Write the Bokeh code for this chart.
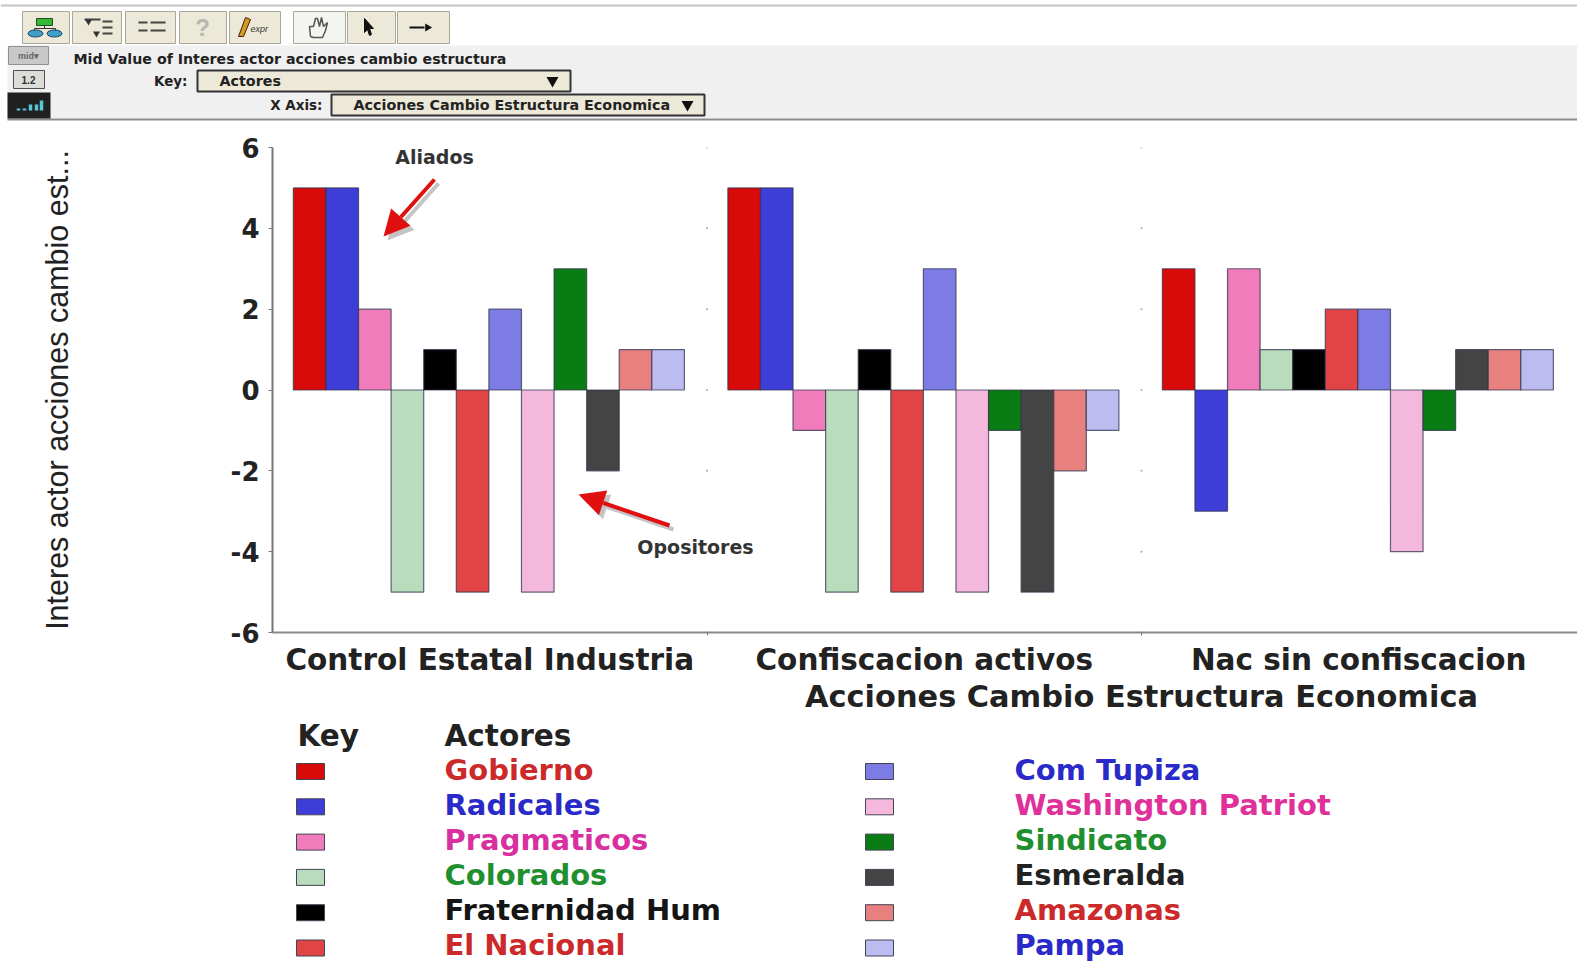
from bokeh.plotting import figure
from bokeh.layouts import column
from bokeh.models import FixedTicker, Arrow, NormalHead, Range1d, Label
from bokeh.core.properties import value
from bokeh.embed import file_html
from bokeh.resources import INLINE

groups = ["Control Estatal Industria", "Confiscacion activos", "Nac sin confiscacion"]
actors = ["Gobierno", "Radicales", "Pragmaticos", "Colorados", "Fraternidad Hum", "El Nacional",
          "Com Tupiza", "Washington Patriot", "Sindicato", "Esmeralda", "Amazonas", "Pampa"]
control = [5, 5, 2, -5, 1, -5, 2, -5, 3, -2, 1, 1]
confiscacion = [5, 5, -1, -5, 1, -5, 3, -5, -1, -5, -2, -1]
nacionalizacion = [3, -3, 3, 1, 1, 2, 2, -4, -1, 1, 1, 1]
bar_colors = ["#d80a0a", "#3d3dd8", "#f07cbc", "#b8dcbc", "#000000", "#e04444",
              "#7c7ce4", "#f4b8dc", "#0a7c14", "#444444", "#e88080", "#bcbcf0"]
text_colors = ["#cc2a2a", "#2a2ac8", "#d830a0", "#1f8f2f", "#151515", "#cc2a2a",
               "#2a2ac8", "#e0309a", "#1f8f2f", "#222222", "#cc2a2a", "#2a2ac8"]
y_ticks = [-6, -4, -2, 0, 2, 4, 6]
BIG = "DejaVu Sans"
SANS = "Liberation Sans"
W = 1577


def blank(h, y0, y1, **kw):
    f = figure(width=W, height=h, x_range=Range1d(0, W), y_range=Range1d(y1, y0),
               x_axis_type=None, y_axis_type=None, toolbar_location=None, output_backend="svg",
               min_border=0, outline_line_color=None, frame_align=False, **kw)
    f.grid.visible = False
    return f


def box(f, x0, x1, y0, y1, fill, line=None, lw=1):
    f.quad(left=x0, right=x1, top=y0, bottom=y1, fill_color=fill, line_color=line, line_width=lw)


def txt(f, x, y, s, size, color="#222222", font=SANS, style="normal", align="left"):
    f.text(x=[x], y=[y], text=[s], text_font=value(font), text_font_size=f"{size}px",
           text_font_style=style, text_color=color, text_align=align, text_baseline="middle")


# ---------- top application chrome ----------
top = blank(122, 0, 122)
box(top, 0, W, 4, 6, "#c4c4c4")
for a, b, fill in [(22, 69, "#ece9d8"), (72, 121, "#ece9d8"), (125, 175, "#ece9d8"), (179, 226, "#ece9d8"),
                   (229, 280, "#ece9d8"), (293, 345, "#f4f4f0"), (347, 395, "#ece9d8"), (397, 449, "#ece9d8")]:
    box(top, a, b, 11, 43, fill, "#a8a898")
# network icon
box(top, 36, 52, 18, 25, "#38b838", "#205020")
top.segment(x0=[44, 34, 34, 55], y0=[25, 28, 28, 28], x1=[44, 55, 34, 55], y1=[28, 28, 31, 31], line_color="#333333")
top.ellipse(x=[35, 54], y=[33, 33], width=15, height=7, fill_color="#40a0c8", line_color="#204060")
# outline icons
top.segment(x0=[84, 102, 102, 102, 138, 138, 150, 150], y0=[19, 21, 27, 33, 22, 30, 22, 30],
            x1=[100, 112, 112, 112, 147, 147, 165, 165], y1=[19, 21, 27, 33, 22, 30, 22, 30],
            line_color="#444444", line_width=2)
top.scatter(x=[88, 96], y=[21, 33], marker="inverted_triangle", size=7, fill_color="#333333", line_color=None)
txt(top, 202, 27, "?", 24, "#b8b8b0", style="bold", align="center")
top.patch(x=[238, 243, 250, 245], y=[36, 36, 19, 17], fill_color="#c8a020", line_color="#601010")
txt(top, 250, 28, "expr", 9, "#333333", style="italic")
top.patch(x=[310, 309, 313, 315, 317, 319, 321, 323, 327, 325, 322, 313],
          y=[36, 26, 26, 18, 18, 26, 17, 26, 22, 30, 37, 37], fill_color="#f4f4f0", line_color="#555555", line_width=1.5)
top.patch(x=[364, 364, 367, 369, 371, 369, 373], y=[18, 32, 29, 35, 34, 28, 28], fill_color="#111111", line_color="#111111")
top.segment(x0=[409], y0=[27], x1=[424], y1=[27], line_color="#111111", line_width=2)
top.scatter(x=[427], y=[27], marker="triangle", angle=-1.5708, size=8, fill_color="#111111", line_color=None)
# panel
box(top, 7, W, 45, 118, "#f0f0f0")
box(top, 7, W, 118, 120, "#8c8c8c")
box(top, 8, 48, 46, 64, "#c8c8c8", "#909090")
txt(top, 28, 55, "mid\u25be", 9, "#666666", style="bold", align="center")
box(top, 13, 44, 70, 88, "#dcdcd8", "#505050")
txt(top, 28, 79, "1.2", 10, "#333333", style="bold", align="center")
box(top, 7, 50, 92, 118, "#202020")
top.vbar(x=[18, 24, 30, 36, 41], width=3.5, top=[108, 108, 104, 104, 100], bottom=110, fill_color="#58c8d8", line_color=None)
txt(top, 73, 58, "Mid Value of Interes actor acciones cambio estructura", 14.2, style="bold", font=BIG)
txt(top, 187, 80, "Key:", 13.5, style="bold", font=BIG, align="right")
box(top, 197, 570, 70, 91, "#ece9d8", "#333333", 2)
txt(top, 219, 80, "Actores", 14.3, style="bold", font=BIG)
top.scatter(x=[552], y=[80], marker="inverted_triangle", size=12, fill_color="#111111", line_color=None)
txt(top, 322, 104, "X Axis:", 13.5, style="bold", font=BIG, align="right")
box(top, 331, 704, 94, 115, "#ece9d8", "#333333", 2)
txt(top, 353, 104, "Acciones Cambio Estructura Economica", 14.3, style="bold", font=BIG)
top.scatter(x=[687], y=[104], marker="inverted_triangle", size=12, fill_color="#111111", line_color=None)

# ---------- main chart ----------
GROUP_PX = 434.5
LEFT = 272
p = figure(width=W, height=561, x_range=Range1d(0, (W - LEFT) / GROUP_PX), y_range=Range1d(-6, 6),
           toolbar_location=None, output_backend="svg", min_border_left=LEFT, min_border_right=0,
           min_border_top=25, min_border_bottom=51, outline_line_color=None, frame_align=False,
           y_axis_label="Interes actor acciones cambio est...")
p.grid.visible = False
series = [control, confiscacion, nacionalizacion]
pad, bw = 0.048, 0.9 / len(actors)
for i, name in enumerate(actors):
    xs = [g + pad + (i + 0.5) * bw for g in range(len(groups))]
    p.vbar(x=xs, width=bw, top=[s[i] for s in series], bottom=0, fill_color=bar_colors[i],
           line_color="#33334d", line_alpha=0.75, line_width=1.2)
p.scatter(x=[g for g in (1, 2) for _ in y_ticks], y=[t for _ in (1, 2) for t in y_ticks],
          size=2, fill_color="#aaaaaa", line_color=None)

ya = p.yaxis[0]
ya.ticker = FixedTicker(ticks=y_ticks)
ya.major_label_overrides = {t: str(t) for t in y_ticks}
ya.major_label_text_font = BIG
ya.major_label_text_font_size = "26px"
ya.major_label_text_font_style = "bold"
ya.major_label_text_color = "#222222"
ya.major_label_standoff = 9
ya.major_tick_out = 4
ya.major_tick_in = 0
ya.minor_tick_line_color = None
ya.axis_line_color = "#777777"
ya.axis_line_width = 2
ya.major_tick_line_color = "#777777"
ya.axis_label_text_font = SANS
ya.axis_label_text_font_size = "30.5px"
ya.axis_label_text_font_style = "normal"
ya.axis_label_text_color = "#222222"
ya.axis_label_standoff = 154

xa = p.xaxis[0]
xa.ticker = FixedTicker(ticks=[0.5, 1.5, 2.5], minor_ticks=[1, 2])
xa.major_label_overrides = {0.5: groups[0], 1.5: groups[1], 2.5: groups[2]}
xa.major_label_text_font = BIG
xa.major_label_text_font_size = "29.5px"
xa.major_label_text_font_style = "bold"
xa.major_label_text_color = "#222222"
xa.major_label_standoff = 7
xa.major_tick_line_color = None
xa.major_tick_out = 0
xa.major_tick_in = 0
xa.minor_tick_out = 3
xa.minor_tick_in = 0
xa.minor_tick_line_color = "#777777"
xa.axis_line_color = "#8a8a8a"
xa.axis_line_width = 2


def dx(px):
    return (px - LEFT) / GROUP_PX


def dy(py):
    return (389.5 - py) / (485 / 12)


for (x0, y0, x1, y1) in [(434, 179, 383, 236), (669, 525, 578, 494)]:
    for off, col, al in [(4, "#555555", 0.35), (0, "#e01010", 1.0)]:
        p.add_layout(Arrow(x_start=dx(x0 + off), y_start=dy(y0 + off), x_end=dx(x1 + off), y_end=dy(y1 + off),
                           line_color=col, line_alpha=al, line_width=4,
                           end=NormalHead(size=26, fill_color=col, fill_alpha=al, line_color=None)))
for x, y, s in [(434, 156, "Aliados"), (695, 546, "Opositores")]:
    p.add_layout(Label(x=dx(x), y=dy(y), text=s, text_font=BIG, text_font_size="19px", text_font_style="bold",
                       text_color="#333333", text_align="center", text_baseline="middle"))

# ---------- x title and legend ----------
leg = blank(285, 676, 961, margin=(-7, 0, 0, 0), background_fill_alpha=0, border_fill_alpha=0)
txt(leg, 1141, 696, "Acciones Cambio Estructura Economica", 30.4, font=BIG, style="bold", align="center")
txt(leg, 297, 735, "Key", 29.5, font=BIG, style="bold")
txt(leg, 444, 735, "Actores", 29.5, font=BIG, style="bold")
for i, name in enumerate(actors):
    col, row = divmod(i, 6)
    yc = 771 + row * 35.3
    sx = 296 if col == 0 else 865
    tx = 444 if col == 0 else 1014
    box(leg, sx, sx + 28, yc - 8, yc + 8, bar_colors[i], "#444455")
    txt(leg, tx, 769 + row * 35, name, 29, color=text_colors[i], font=BIG, style="bold")

open("out.html", "w").write(file_html(column(top, p, leg, spacing=0), INLINE))
